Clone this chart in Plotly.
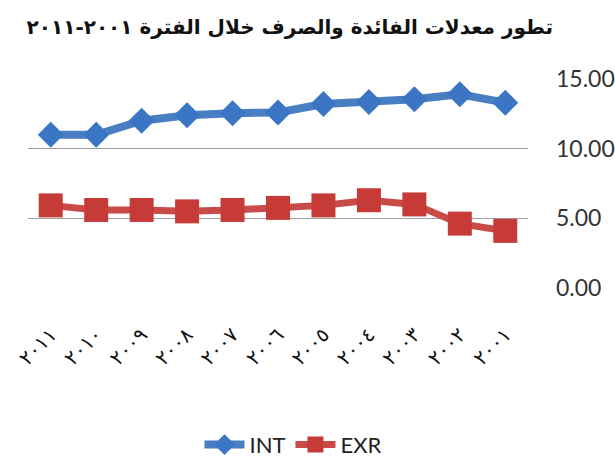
import plotly.graph_objects as go

years = ["٢٠١١", "٢٠١٠", "٢٠٠٩", "٢٠٠٨", "٢٠٠٧", "٢٠٠٦", "٢٠٠٥", "٢٠٠٤", "٢٠٠٣", "٢٠٠٢", "٢٠٠١"]
int_vals = [11.0, 11.0, 12.0, 12.4, 12.55, 12.6, 13.2, 13.35, 13.55, 13.9, 13.3]
exr_vals = [5.93, 5.6, 5.6, 5.5, 5.6, 5.75, 5.93, 6.3, 6.0, 4.62, 4.1]
y_ticks = [0, 5, 10, 15]
title_text = "تطور معدلات الفائدة والصرف خلال الفترة ٢٠٠١-٢٠١١"

fig = go.Figure()
fig.add_trace(go.Scatter(
    x=years, y=int_vals, name="INT", mode="lines+markers",
    line=dict(color="#4A7EC2", width=8),
    marker=dict(symbol="diamond", size=20, color="#3B76C4"),
    cliponaxis=False,
))
fig.add_trace(go.Scatter(
    x=years, y=exr_vals, name="EXR", mode="lines+markers",
    line=dict(color="#C84B48", width=7),
    marker=dict(symbol="square", size=24, color="#C63B37"),
    cliponaxis=False,
))

fig.update_layout(
    width=615, height=462,
    margin=dict(l=28, r=87, t=79, b=174, autoexpand=False),
    paper_bgcolor="white", plot_bgcolor="white",
    title=dict(text=title_text, x=553/615, xanchor="right", xref="container",
               y=1-27/462, yanchor="middle", yref="container", automargin=False,
               font=dict(family="DejaVu Sans", size=20, color="#111111", weight="bold")),
    showlegend=True,
    legend=dict(orientation="h", x=0.53, xanchor="center", y=-0.75, yanchor="middle",
                font=dict(family="Lato", size=22, color="#222222"),
                itemwidth=40, tracegroupgap=0),
    xaxis=dict(type="category", range=[-0.5, 10.5], showgrid=False, zeroline=False,
               showline=False, ticks="", tickangle=-45, ticklabelstandoff=30,
               automargin=False,
               tickfont=dict(family="DejaVu Sans", size=20, color="#111111")),
    yaxis=dict(side="right", range=[0, 15], tickvals=y_ticks, tickformat=".2f",
               showgrid=True, gridcolor="#A0A0A0", gridwidth=1, zeroline=False,
               showline=False, ticks="", ticklabelstandoff=27, automargin=False,
               tickfont=dict(family="Lato", size=23, color="#333333")),
)

fig.write_html("out.html")
